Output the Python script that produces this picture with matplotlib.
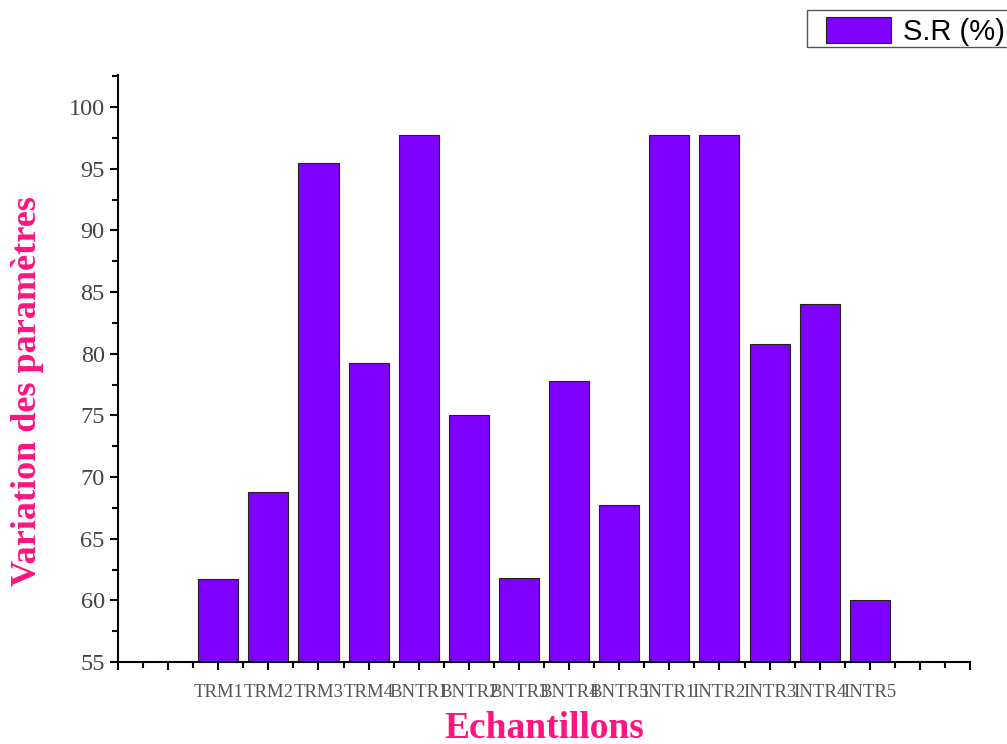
import numpy as np
import matplotlib.pyplot as plt
from matplotlib.patches import Rectangle
from matplotlib.ticker import MultipleLocator

samples = ["TRM1", "TRM2", "TRM3", "TRM4", "BNTR1", "BNTR2", "BNTR3",
           "BNTR4", "BNTR5", "INTR1", "INTR2", "INTR3", "INTR4", "INTR5"]
sr = [61.75, 68.8, 95.45, 79.25, 97.7, 75.0, 61.8,
      77.8, 67.75, 97.7, 97.7, 80.8, 84.0, 60.0]

fig = plt.figure(figsize=(10.07, 7.44), dpi=100)
ax = fig.add_axes([0.1172, 0.1102, 0.8461, 0.789])

x = np.arange(len(samples))
ax.bar(x, np.array(sr) - 55, bottom=55, width=0.8, color="#7F00FF",
       edgecolor="#222222", linewidth=0.8, label="S.R (%)")

ax.set_xlim(-2, 15)
ax.set_ylim(55, 102.6)
ax.xaxis.set_minor_locator(MultipleLocator(0.5))
ax.yaxis.set_minor_locator(MultipleLocator(2.5))

ticks = np.arange(-2, 16)
ax.set_xticks(ticks)
ax.set_xticklabels([samples[t] if 0 <= t < len(samples) else "" for t in ticks],
                   fontfamily="Liberation Serif", fontsize=13.5, color="#555555")
ax.set_yticks(np.arange(55, 101, 5))
ax.set_yticklabels([str(v) for v in range(55, 101, 5)],
                   fontfamily="Liberation Serif", fontsize=17.5, color="#444444")
ax.tick_params(which="major", direction="out", length=6, width=1.5)
ax.tick_params(which="minor", direction="out", length=4, width=1.5)
ax.tick_params(axis="x", which="major", pad=10)

for s in ["top", "right"]:
    ax.spines[s].set_visible(False)
for s in ["left", "bottom"]:
    ax.spines[s].set_linewidth(1.5)

ax.set_ylabel("Variation des paramètres", fontfamily="Liberation Serif",
              fontsize=26, fontweight="bold", color="#FF1480")
ax.yaxis.set_label_coords(-0.087, 0.462)
ax.set_xlabel("Echantillons", fontfamily="Liberation Serif",
              fontsize=27, fontweight="bold", color="#FF1480", labelpad=7)

# legend box runs past the right edge, as in the original
leg = fig.legend(loc="upper left", bbox_to_anchor=(826 / 1007, 1 - 17 / 744),
                 prop={"family": "Liberation Sans", "size": 21},
                 frameon=False, handlelength=2.24, handleheight=1.0,
                 borderpad=0, borderaxespad=0, handletextpad=0.4)
fig.patches.append(Rectangle((807 / 1007, 1 - 47 / 744), 220 / 1007, 37 / 744,
                             transform=fig.transFigure, fill=False,
                             edgecolor="#555555", linewidth=1.0))

fig.savefig("out.png", dpi=100)
